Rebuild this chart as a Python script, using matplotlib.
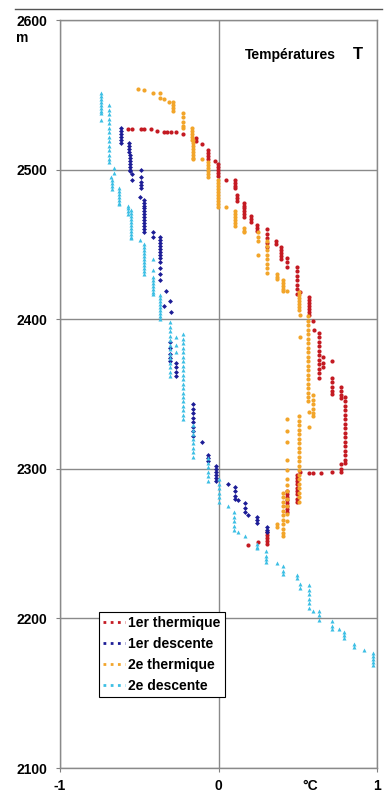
import matplotlib
matplotlib.use('Agg')
from matplotlib import pyplot as plt
from matplotlib.lines import Line2D
from matplotlib.transforms import ScaledTranslation

plt.rcParams['font.family'] = ['Liberation Sans', 'DejaVu Sans']
plt.rcParams['font.weight'] = 'bold'

# points (temperature en degC, altitude en m)
thermique1 = [
    (-0.568, 2527), (-0.543, 2527), (-0.492, 2527), (-0.473, 2527), (-0.429, 2527),
    (-0.391, 2526), (-0.347, 2525), (-0.322, 2525), (-0.297, 2525), (-0.271, 2525),
    (-0.221, 2524), (-0.145, 2521), (-0.145, 2519), (-0.101, 2517),
    (-0.069, 2513), (-0.069, 2511), (-0.069, 2509), (-0.069, 2507), (-0.019, 2506),
    (-0.006, 2504), (-0.006, 2502), (-0.006, 2500), (-0.006, 2498), (-0.006, 2496),
    (0.05, 2493), (0.101, 2493), (0.101, 2491), (0.101, 2489), (0.101, 2488),
    (0.114, 2483), (0.114, 2481), (0.114, 2479),
    (0.158, 2478), (0.158, 2476), (0.158, 2474), (0.158, 2472), (0.158, 2470), (0.158, 2468),
    (0.202, 2469), (0.202, 2467), (0.202, 2465),
    (0.246, 2463), (0.246, 2461), (0.246, 2459),
    (0.303, 2460), (0.303, 2457), (0.303, 2454), (0.303, 2451), (0.303, 2448),
    (0.36, 2452), (0.36, 2450),
    (0.397, 2448), (0.397, 2446), (0.397, 2444), (0.397, 2442), (0.397, 2440),
    (0.435, 2441), (0.435, 2438), (0.435, 2435),
    (0.498, 2435), (0.498, 2432), (0.498, 2429), (0.498, 2426), (0.498, 2423), (0.498, 2420),
    (0.498, 2417), (0.517, 2418),
    (0.568, 2415), (0.568, 2413), (0.568, 2411), (0.568, 2409), (0.568, 2407), (0.568, 2405),
    (0.568, 2403), (0.599, 2399), (0.605, 2393),
    (0.637, 2391), (0.637, 2388), (0.637, 2385), (0.637, 2382), (0.637, 2379), (0.637, 2376),
    (0.637, 2373), (0.637, 2370), (0.637, 2367), (0.637, 2364), (0.637, 2361),
    (0.662, 2375), (0.662, 2371), (0.662, 2368),
    (0.713, 2372), (0.713, 2361), (0.713, 2358), (0.713, 2355), (0.713, 2352), (0.713, 2350),
    (0.77, 2355), (0.77, 2352), (0.77, 2349), (0.77, 2347),
    (0.801, 2348), (0.801, 2345), (0.801, 2342), (0.801, 2339), (0.801, 2336), (0.801, 2333),
    (0.801, 2330), (0.801, 2327), (0.801, 2324), (0.801, 2321), (0.801, 2318), (0.801, 2315),
    (0.801, 2312), (0.801, 2309), (0.801, 2306), (0.801, 2304),
    (0.77, 2303), (0.77, 2300), (0.77, 2298), (0.719, 2298), (0.644, 2297), (0.599, 2297),
    (0.568, 2297), (0.517, 2298),
    (0.498, 2296), (0.498, 2294), (0.498, 2292), (0.498, 2290), (0.498, 2287), (0.498, 2285),
    (0.498, 2283), (0.498, 2280), (0.498, 2278),
    (0.435, 2285), (0.435, 2283), (0.435, 2281), (0.435, 2279), (0.435, 2277), (0.435, 2275),
    (0.435, 2273), (0.435, 2271),
    (0.309, 2258), (0.309, 2256), (0.309, 2254), (0.309, 2252), (0.309, 2250),
    (0.252, 2251), (0.189, 2249),
]

descente1 = [
    (-0.618, 2528), (-0.618, 2526), (-0.618, 2524), (-0.618, 2522), (-0.618, 2520), (-0.618, 2518),
    (-0.562, 2518), (-0.562, 2516), (-0.562, 2514), (-0.562, 2512), (-0.556, 2510), (-0.556, 2508),
    (-0.556, 2506), (-0.556, 2504), (-0.556, 2502), (-0.556, 2500), (-0.556, 2499),
    (-0.543, 2497), (-0.543, 2493), (-0.492, 2500), (-0.492, 2495), (-0.492, 2492),
    (-0.492, 2490), (-0.492, 2488), (-0.498, 2482),
    (-0.473, 2480), (-0.473, 2478), (-0.473, 2476), (-0.473, 2474), (-0.473, 2472), (-0.473, 2470),
    (-0.473, 2468), (-0.473, 2466), (-0.473, 2464), (-0.473, 2462), (-0.473, 2460), (-0.473, 2458),
    (-0.416, 2458), (-0.416, 2455),
    (-0.366, 2455), (-0.366, 2453), (-0.366, 2451), (-0.366, 2449), (-0.366, 2447), (-0.366, 2445),
    (-0.366, 2443), (-0.366, 2441), (-0.366, 2438), (-0.366, 2434), (-0.366, 2430), (-0.366, 2426),
    (-0.334, 2419), (-0.303, 2412), (-0.347, 2409), (-0.297, 2405),
    (-0.303, 2385), (-0.303, 2381), (-0.303, 2377), (-0.303, 2374), (-0.303, 2372),
    (-0.271, 2371), (-0.271, 2368), (-0.271, 2365), (-0.271, 2362),
    (-0.16, 2343), (-0.16, 2340), (-0.16, 2337), (-0.16, 2334), (-0.16, 2331), (-0.16, 2328),
    (-0.16, 2325), (-0.16, 2322),
    (-0.101, 2318), (-0.069, 2309), (-0.069, 2307), (-0.069, 2305),
    (-0.013, 2302), (-0.013, 2300), (-0.013, 2298), (-0.013, 2296), (-0.013, 2294), (-0.013, 2292),
    (0.057, 2290), (0.107, 2288), (0.107, 2285), (0.107, 2282), (0.107, 2280), (0.12, 2279),
    (0.17, 2277), (0.17, 2274), (0.17, 2271), (0.189, 2269),
    (0.246, 2268), (0.246, 2266), (0.246, 2264),
    (0.309, 2261), (0.309, 2259), (0.309, 2258),
]

thermique2 = [
    (-0.505, 2554), (-0.473, 2553), (-0.416, 2551), (-0.372, 2551), (-0.372, 2548), (-0.347, 2547),
    (-0.315, 2545), (-0.284, 2545), (-0.284, 2543), (-0.284, 2541), (-0.284, 2539),
    (-0.221, 2538), (-0.221, 2535), (-0.221, 2532), (-0.221, 2529), (-0.221, 2528),
    (-0.17, 2528), (-0.17, 2526), (-0.17, 2524), (-0.17, 2522), (-0.17, 2520),
    (-0.158, 2520), (-0.158, 2518), (-0.158, 2516), (-0.158, 2514), (-0.158, 2512), (-0.158, 2510),
    (-0.158, 2508), (-0.158, 2507), (-0.101, 2507),
    (-0.069, 2505), (-0.069, 2503), (-0.069, 2501), (-0.069, 2499), (-0.069, 2497), (-0.069, 2495),
    (-0.006, 2493), (-0.006, 2491), (-0.006, 2489), (-0.006, 2487), (-0.006, 2485), (-0.006, 2483),
    (-0.006, 2481), (-0.006, 2479), (-0.006, 2477), (-0.006, 2475), (0.05, 2475),
    (0.101, 2472), (0.101, 2470), (0.101, 2468), (0.101, 2466), (0.101, 2464), (0.101, 2462),
    (0.164, 2461), (0.164, 2459), (0.164, 2458),
    (0.252, 2458), (0.252, 2455), (0.252, 2452), (0.248, 2443),
    (0.309, 2452), (0.309, 2449), (0.309, 2446), (0.309, 2443), (0.309, 2440), (0.309, 2437),
    (0.309, 2434), (0.309, 2431),
    (0.372, 2430), (0.372, 2428), (0.372, 2427),
    (0.404, 2426), (0.404, 2424), (0.404, 2422), (0.404, 2420), (0.404, 2419), (0.435, 2419),
    (0.505, 2418), (0.505, 2416), (0.505, 2414), (0.505, 2412), (0.505, 2410), (0.505, 2408),
    (0.505, 2406), (0.517, 2403), (0.517, 2388),
    (0.562, 2402), (0.562, 2399), (0.562, 2396), (0.562, 2393), (0.562, 2390), (0.562, 2387),
    (0.562, 2384), (0.562, 2381), (0.562, 2378), (0.562, 2375), (0.562, 2372), (0.562, 2369),
    (0.562, 2366), (0.562, 2363), (0.562, 2360), (0.562, 2357), (0.562, 2354), (0.562, 2351),
    (0.562, 2348), (0.562, 2345), (0.568, 2338), (0.568, 2328),
    (0.599, 2349), (0.599, 2346), (0.599, 2343), (0.599, 2340), (0.599, 2337), (0.599, 2335),
    (0.505, 2335), (0.505, 2332), (0.505, 2329), (0.505, 2326), (0.505, 2323), (0.505, 2320),
    (0.505, 2317), (0.505, 2314), (0.505, 2311), (0.505, 2308), (0.505, 2305), (0.505, 2302),
    (0.505, 2299), (0.505, 2296), (0.505, 2293), (0.505, 2290), (0.505, 2287), (0.505, 2284),
    (0.505, 2281), (0.505, 2278),
    (0.435, 2333), (0.435, 2325), (0.435, 2318), (0.435, 2306), (0.435, 2299), (0.435, 2293),
    (0.435, 2289), (0.435, 2285), (0.435, 2280), (0.435, 2275), (0.435, 2270), (0.435, 2265),
    (0.404, 2284), (0.404, 2281), (0.404, 2278), (0.404, 2275), (0.404, 2272), (0.404, 2269),
    (0.404, 2266), (0.404, 2263), (0.404, 2260), (0.404, 2257), (0.404, 2255),
    (0.372, 2261), (0.366, 2263),
]

descente2 = [
    (-0.744, 2551), (-0.744, 2549), (-0.744, 2547), (-0.744, 2545), (-0.744, 2543), (-0.744, 2541),
    (-0.744, 2539), (-0.744, 2538), (-0.744, 2533),
    (-0.688, 2543), (-0.688, 2540), (-0.688, 2537), (-0.688, 2534), (-0.688, 2531), (-0.688, 2528),
    (-0.688, 2525), (-0.688, 2522), (-0.688, 2519), (-0.688, 2516), (-0.688, 2513), (-0.688, 2510),
    (-0.688, 2507), (-0.688, 2505), (-0.662, 2501), (-0.662, 2498), (-0.68, 2495),
    (-0.669, 2493), (-0.669, 2491), (-0.669, 2489), (-0.669, 2487),
    (-0.625, 2488), (-0.625, 2486), (-0.625, 2484), (-0.625, 2482), (-0.625, 2480), (-0.625, 2478),
    (-0.625, 2477), (-0.574, 2476), (-0.574, 2474), (-0.574, 2472), (-0.574, 2470),
    (-0.549, 2473), (-0.549, 2471), (-0.549, 2469), (-0.549, 2467), (-0.549, 2465), (-0.549, 2463),
    (-0.549, 2461), (-0.549, 2459), (-0.549, 2457), (-0.549, 2455), (-0.549, 2454), (-0.498, 2453),
    (-0.473, 2450), (-0.473, 2448), (-0.473, 2446), (-0.473, 2444), (-0.473, 2442), (-0.473, 2440),
    (-0.473, 2438), (-0.473, 2436), (-0.473, 2434), (-0.473, 2432), (-0.473, 2430),
    (-0.416, 2440), (-0.416, 2433),
    (-0.416, 2428), (-0.416, 2426), (-0.416, 2424), (-0.416, 2422), (-0.416, 2420), (-0.416, 2418),
    (-0.416, 2417),
    (-0.366, 2416), (-0.366, 2414), (-0.366, 2412), (-0.366, 2410), (-0.366, 2408), (-0.366, 2406),
    (-0.366, 2404), (-0.366, 2402), (-0.366, 2400),
    (-0.303, 2398), (-0.303, 2395), (-0.303, 2392), (-0.303, 2389), (-0.303, 2386), (-0.303, 2383),
    (-0.303, 2380), (-0.303, 2377), (-0.303, 2374), (-0.303, 2371), (-0.303, 2368), (-0.303, 2365),
    (-0.303, 2362), (-0.271, 2388), (-0.271, 2383), (-0.271, 2378),
    (-0.221, 2390), (-0.221, 2387), (-0.221, 2384), (-0.221, 2381), (-0.221, 2378), (-0.221, 2375),
    (-0.221, 2372), (-0.221, 2369), (-0.221, 2366), (-0.221, 2363), (-0.221, 2360), (-0.221, 2357),
    (-0.221, 2354), (-0.221, 2351), (-0.221, 2348), (-0.221, 2345), (-0.221, 2342), (-0.221, 2339),
    (-0.221, 2336), (-0.221, 2333),
    (-0.158, 2329), (-0.158, 2326), (-0.158, 2323), (-0.158, 2320), (-0.158, 2317), (-0.158, 2314),
    (-0.158, 2311), (-0.158, 2308),
    (-0.069, 2307), (-0.069, 2304), (-0.069, 2301), (-0.069, 2298), (-0.069, 2295), (-0.069, 2292),
    (0.0, 2293), (0.0, 2290), (0.0, 2287), (0.0, 2284), (0.0, 2281), (0.0, 2278),
    (0.057, 2275), (0.095, 2271), (0.095, 2268), (0.095, 2265), (0.095, 2262), (0.095, 2259),
    (0.12, 2258), (0.17, 2255), (0.246, 2250), (0.246, 2248), (0.246, 2247),
    (0.297, 2245), (0.297, 2242), (0.297, 2240), (0.297, 2238), (0.372, 2237),
    (0.404, 2235), (0.404, 2232), (0.404, 2230), (0.498, 2229), (0.498, 2227),
    (0.517, 2223), (0.517, 2220),
    (0.568, 2222), (0.568, 2219), (0.568, 2216), (0.568, 2213), (0.568, 2210), (0.568, 2207),
    (0.599, 2205), (0.637, 2205), (0.637, 2202), (0.637, 2199),
    (0.719, 2198), (0.719, 2195), (0.719, 2193), (0.763, 2193),
    (0.789, 2191), (0.789, 2189), (0.789, 2187), (0.852, 2183), (0.852, 2181), (0.915, 2179),
    (0.972, 2177), (0.972, 2175), (0.972, 2173), (0.972, 2171), (0.972, 2169),
]

series = [thermique1, descente1, thermique2, descente2]
names = ['1er thermique', '1er descente', '2e thermique', '2e descente']
colors = ['#c41a22', '#1c1c96', '#f2a52a', '#3cbfe4']
markers = ['o', 'D', 'o', '^']
sizes = [3.0, 2.5, 3.0, 2.9]

fig = plt.figure(figsize=(3.9, 7.92), dpi=100)
ax = fig.add_axes([60/390, 24/792, 317/390, 748/792])

for pts, c, m, s in zip(series, colors, markers, sizes):
    t = [p[0] for p in pts]
    z = [p[1] for p in pts]
    ax.plot(t, z, ls='none', marker=m, ms=s, mew=0, color=c)

ax.set_xlim(-1, 1)
ax.set_ylim(2100, 2600)
ax.set_xticks([-1, 0, 1])
ax.set_xticklabels(['-1', '0', '1'])
ax.set_yticks([2100, 2200, 2300, 2400, 2500, 2600])
ax.tick_params(axis='both', labelsize=10, length=3, color='#808080', direction='out')
ax.tick_params(axis='x', pad=5)
ax.tick_params(axis='y', pad=6)
ax.grid(True, color='#8a8a8a', lw=1)
ax.set_axisbelow(True)
for sp in ax.spines.values():
    sp.set_color('#8a8a8a')
    sp.set_linewidth(1)

# unites
ax.text(-0.12, 0.976, 'm', transform=ax.transAxes, fontsize=10, ha='center', va='center')
ax.text(0.58, 0, '°C', fontsize=10, ha='center', va='top',
        transform=ax.get_xaxis_transform() + ScaledTranslation(0, -8/72, fig.dpi_scale_trans))

# titre
ax.text(0.584, 0.953, 'Températures', transform=ax.transAxes, fontsize=10, ha='left', va='center')
ax.text(0.925, 0.954, 'T', transform=ax.transAxes, fontsize=12, ha='left', va='center')

# legende
handles = [Line2D([], [], color=c, ls=(0, (1, 1.6)), lw=2) for c in colors]
leg = ax.legend(handles, names, loc='upper left', bbox_to_anchor=(0.123, 0.2086),
                fontsize=10, frameon=True, fancybox=False, edgecolor='black',
                framealpha=1, handlelength=1.6, handletextpad=0.2, labelspacing=0.5,
                borderpad=0.3, borderaxespad=0)
leg.get_frame().set_linewidth(0.8)

# trait en haut de la figure
fig.add_artist(Line2D([15/390, 382/390], [1 - 9/792, 1 - 9/792], transform=fig.transFigure,
                      color='#555555', lw=1))

plt.savefig('out.png', dpi=100)
